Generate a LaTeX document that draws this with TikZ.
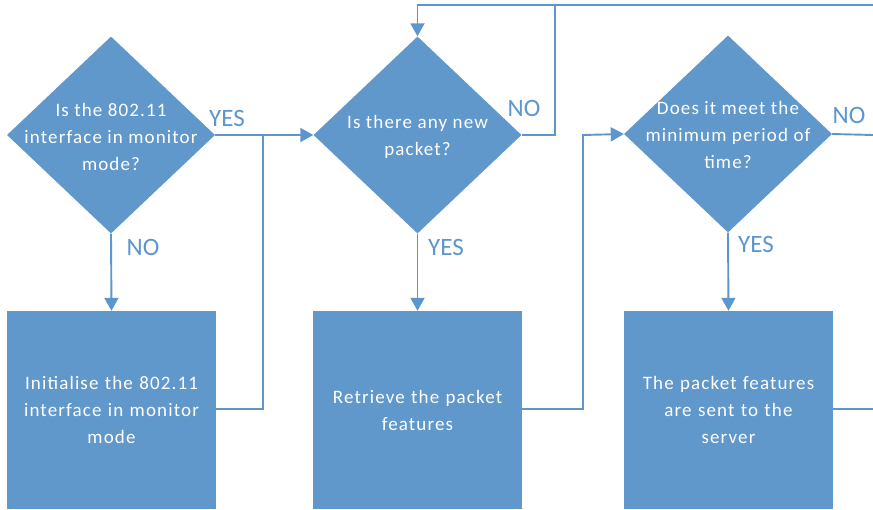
\documentclass[tikz,border=0pt]{standalone}
\usepackage{fontspec}
\setmainfont{Carlito}
\newfontfamily\spaced[LetterSpace=6]{Carlito}
\usetikzlibrary{shapes.geometric,arrows.meta}
\definecolor{vblue}{HTML}{6198CB}
\definecolor{lblue}{HTML}{5B96CF}
\begin{document}
\begin{tikzpicture}[x=1pt,y=-1pt,
  dia/.style={diamond, fill=vblue, draw=none, inner sep=0pt, minimum width=208pt, minimum height=197pt},
  dtext/.style={text=white, align=center, font=\spaced\fontsize{19}{27}\selectfont},
  stepbox/.style={rectangle, fill=vblue, draw=none, inner sep=0pt, minimum width=209pt, minimum height=198pt,
    text width=200pt, align=center, text=white, font=\spaced\fontsize{19}{27}\selectfont},
  conn/.style={draw=lblue, line width=1.9pt},
  tip/.style={-{Triangle[width=14pt,length=13pt]}},
  lbl/.style={text=lblue, font=\fontsize{25}{28}\selectfont, inner sep=0pt}]
\useasboundingbox (0,0) rectangle (873,510);

% decisions
\node[dia] (d1) at (111,135) {};
\node[dtext] (t1) at (111,137) {Is the 802.11\\interface in monitor\\mode?};
\node[dia] (d2) at (417.5,135) {};
\node[dtext] (t2) at (417.5,137) {Is there any new\\packet?};
\node[dia] (d3) at (728,134) {};
\node[dtext] (t3) at (728,135) {Does it meet the\\minimum period of\\time?};

% process boxes
\node[stepbox] (b1) at (111.5,410) {Initialise the 802.11\\interface in monitor\\mode};
\node[stepbox] (b2) at (417.5,410) {Retrieve the packet\\features};
\node[stepbox] (b3) at (728.5,410) {The packet features\\are sent to the\\server};

% helper coordinates
\coordinate (j1) at (263,135);
\coordinate (c2) at (555,5);
\coordinate (c3) at (583,135);
\coordinate (e1) at (873,5);
\coordinate (e2) at (873,135);
\coordinate (e3) at (873,409);

% connectors
\draw[conn,tip] (d1.south) -- (b1.north);
\draw[conn,tip] (d1.east) -- (d2.west);
\draw[conn] (b1.east |- 0,409) -| (j1);
\draw[conn,tip] (d2.south) -- (b2.north);
\draw[conn,tip] (d2.east) -| (c2) -| (d2.north);
\draw[conn] (c2) -- (e1);
\draw[conn,tip] (b2.east |- 0,409) -| (c3) -- (d3.west);
\draw[conn,tip] (d3.south) -- (b3.north);
\draw[conn] (d3.east) -- (e2);
\draw[conn] (b3.east |- 0,409) -- (e3);

% labels
\node[lbl] (l1) at (227,118) {YES};
\node[lbl] (l2) at (143,247) {NO};
\node[lbl] (l3) at (524,108) {NO};
\node[lbl] (l4) at (446,247) {YES};
\node[lbl] (l5) at (849,115) {NO};
\node[lbl] (l6) at (756,244) {YES};
\end{tikzpicture}
\end{document}
